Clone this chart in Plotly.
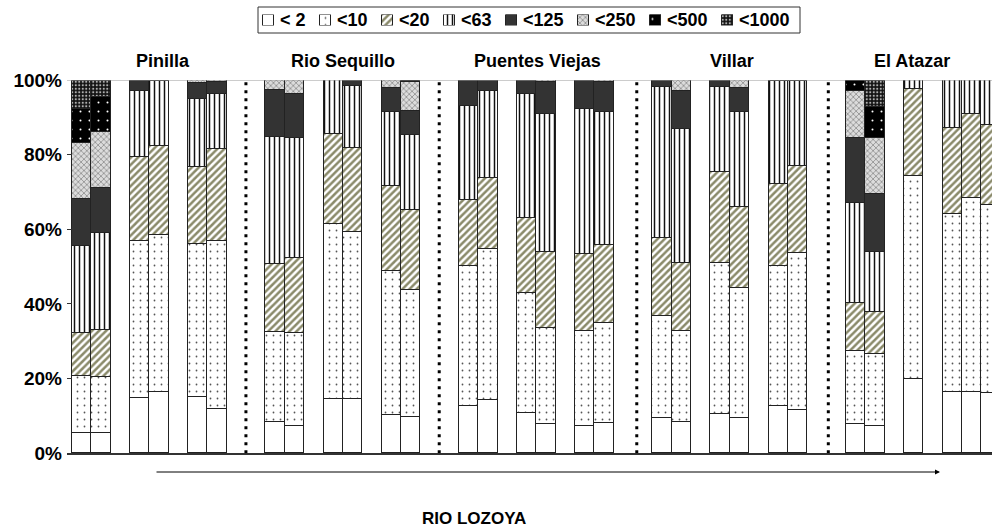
import plotly.graph_objects as go

# Size classes (legend order, bottom to top of each stack)
classes = ["< 2", "<10", "<20", "<63", "<125", "<250", "<500", "<1000"]

# Bar slots along the river: pairs of samples per site, with gaps between pairs and sites
slots = [0, 1, 3, 4, 6, 7,
         10, 11, 13, 14, 16, 17,
         20, 21, 23, 24, 26, 27,
         30, 31, 33, 34, 36, 37,
         40, 41, 43, 45, 46, 47]

sites = ["Pinilla", "Rio Sequillo", "Puentes Viejas", "Villar", "El Atazar"]

# Percentage of each size class per sample
lt2 = [5.5, 5.4, 14.7, 16.5, 15.1, 11.8,
       8.5, 7.4, 14.6, 14.6, 10.3, 9.6,
       12.7, 14.3, 10.9, 7.8, 7.4, 8.0,
       9.4, 8.5, 10.4, 9.4, 12.7, 11.6,
       7.8, 7.4, 19.8, 16.3, 16.3, 16.1]
lt10 = [15.3, 15.1, 42.3, 42.0, 41.1, 45.2,
        24.1, 24.8, 46.9, 44.8, 38.5, 34.2,
        37.5, 40.5, 32.1, 25.9, 25.4, 26.8,
        27.3, 24.3, 40.5, 34.8, 37.5, 42.0,
        19.7, 19.2, 54.6, 47.8, 52.0, 50.4]
lt20 = [11.5, 12.4, 22.3, 23.8, 20.4, 24.5,
        18.0, 20.2, 24.0, 22.5, 22.9, 21.5,
        17.7, 18.9, 19.9, 20.3, 20.5, 21.0,
        20.9, 18.1, 24.5, 21.9, 21.9, 23.4,
        12.7, 11.3, 23.2, 23.1, 22.6, 21.4]
lt63 = [23.2, 26.0, 17.8, 17.4, 18.3, 14.7,
        34.2, 32.0, 14.5, 16.5, 19.8, 20.0,
        25.1, 23.4, 33.3, 36.9, 38.9, 35.7,
        40.6, 35.9, 22.6, 25.4, 27.5, 22.6,
        26.8, 16.1, 2.4, 12.8, 9.1, 12.1]
lt125 = [12.6, 12.1, 2.5, 0.3, 4.4, 3.2,
         12.5, 11.9, 0, 1.6, 6.3, 6.4,
         7.0, 2.9, 3.8, 8.5, 7.8, 7.9,
         1.8, 10.3, 2.0, 6.3, 0.4, 0.4,
         17.4, 15.5, 0, 0, 0, 0]
lt250 = [15.1, 15.2, 0.4, 0, 0.7, 0.6,
         2.7, 3.7, 0, 0, 2.2, 7.7,
         0, 0, 0, 0.6, 0, 0.6,
         0, 2.9, 0, 2.2, 0, 0,
         12.7, 14.9, 0, 0, 0, 0]
lt500 = [9.0, 9.3, 0, 0, 0, 0,
         0, 0, 0, 0, 0, 0.6,
         0, 0, 0, 0, 0, 0,
         0, 0, 0, 0, 0, 0,
         2.9, 8.3, 0, 0, 0, 0]
lt1000 = [7.8, 4.5, 0, 0, 0, 0,
          0, 0, 0, 0, 0, 0,
          0, 0, 0, 0, 0, 0,
          0, 0, 0, 0, 0, 0,
          0, 7.3, 0, 0, 0, 0]

series = [lt2, lt10, lt20, lt63, lt125, lt250, lt500, lt1000]
yticks = [0, 20, 40, 60, 80, 100]
ytick_text = ["0%", "20%", "40%", "60%", "80%", "100%"]

W, H = 992, 528
FONT = "Liberation Sans, Arial, sans-serif"
EDGE = "#222222"


def px(x):
    return x / W


def py(y):
    return 1 - y / H


# Fill style for each size class
styles = [
    dict(color="white"),
    dict(color="white", pattern=dict(shape=".", fgcolor="#555555", bgcolor="white",
                                     size=7, solidity=0.05, fillmode="replace")),
    dict(color="white", pattern=dict(shape="/", fgcolor="#8a8a6a", bgcolor="white",
                                     size=5, solidity=0.5, fillmode="replace")),
    dict(color="white", pattern=dict(shape="|", fgcolor="#111111", bgcolor="white",
                                     size=5, solidity=0.3, fillmode="replace")),
    dict(color="#333333"),
    dict(color="#c8c8c8", pattern=dict(shape="x", fgcolor="#7a7a7a", bgcolor="#dcdcdc",
                                       size=4, solidity=0.3, fillmode="replace")),
    dict(color="black", pattern=dict(shape=".", fgcolor="white", bgcolor="black",
                                     size=9, solidity=0.04, fillmode="replace")),
    dict(color="#222222", pattern=dict(shape=".", fgcolor="#b0b0b0", bgcolor="#111111",
                                       size=3.5, solidity=0.3, fillmode="replace")),
]

fig = go.Figure()

for name, vals, st in zip(classes, series, styles):
    fig.add_bar(
        x=slots,
        y=[v if v else None for v in vals],
        name=name,
        width=1,
        marker=dict(line=dict(color=EDGE, width=1), **st),
        showlegend=False,
        hovertemplate="%{y:.1f}%<extra>" + name + "</extra>",
    )

# Legend row: small swatches drawn on their own pixel-scaled axes
swatch_left = [263, 320, 382, 444, 506, 578, 650, 722]
SW = 11
for name, left, st in zip(classes, swatch_left, styles):
    fig.add_bar(
        x=[left + SW / 2], y=[1], width=[SW], xaxis="x2", yaxis="y2",
        marker=dict(line=dict(color=EDGE, width=1), **st),
        showlegend=False, hoverinfo="skip",
    )

annotations = []
for name, left in zip(classes, swatch_left):
    annotations.append(dict(
        text="<b>%s</b>" % name, x=px(left + SW + 4), y=py(20.5), xref="paper", yref="paper",
        xanchor="left", yanchor="middle", showarrow=False,
        font=dict(family=FONT, size=18, color="black"),
    ))

site_px = [163, 343, 537, 732, 912]
for s, xp in zip(sites, site_px):
    annotations.append(dict(
        text="<b>%s</b>" % s, x=px(xp), y=py(61), xref="paper", yref="paper",
        xanchor="center", yanchor="middle", showarrow=False,
        font=dict(family=FONT, size=18, color="black"),
    ))

# Downstream arrow and river name
annotations.append(dict(
    text="", x=px(940), y=py(472), xref="paper", yref="paper",
    ax=-(940 - 155), ay=0, axref="pixel", ayref="pixel",
    showarrow=True, arrowhead=2, arrowsize=1, arrowwidth=1, arrowcolor="black",
))
annotations.append(dict(
    text="<b>RIO LOZOYA</b>", x=px(474), y=py(518), xref="paper", yref="paper",
    xanchor="center", yanchor="middle", showarrow=False,
    font=dict(family=FONT, size=17, color="black"),
))

shapes = [
    # legend frame
    dict(type="rect", xref="paper", yref="paper", x0=px(258), x1=px(800),
         y0=py(33), y1=py(7), line=dict(color="#333333", width=1)),
    # 100% line
    dict(type="line", xref="paper", yref="y", x0=px(67), x1=1, y0=100, y1=100,
         line=dict(color="#999999", width=1)),
]
# Dotted separators between sites
for xs in [8.49, 18.48, 28.69, 38.59]:
    shapes.append(dict(type="line", xref="x", yref="y", x0=xs, x1=xs, y0=0, y1=100,
                       line=dict(color="black", width=3, dash="3px,5px"), layer="above"))

fig.update_layout(
    width=W, height=H,
    margin=dict(l=0, r=0, t=0, b=0, autoexpand=False),
    paper_bgcolor="white", plot_bgcolor="white",
    barmode="stack", bargap=0,
    font=dict(family=FONT, color="black"),
    xaxis=dict(domain=[px(67), 1], range=[-0.758, 47.05], showticklabels=False,
               ticks="", showgrid=False, zeroline=False, showline=True,
               linecolor="#333333", linewidth=1.5, fixedrange=True, automargin=False),
    yaxis=dict(domain=[py(453.3), py(80)], range=[0, 100], tickvals=yticks,
               ticktext=["<b>%s</b>" % t for t in ytick_text], ticks="inside",
               ticklen=5, tickcolor="#333333", tickwidth=1, showgrid=False,
               zeroline=False, showline=False, tickfont=dict(family=FONT, size=19),
               ticklabelstandoff=4, fixedrange=True, automargin=False),
    xaxis2=dict(domain=[0, 1], range=[0, W], anchor="y2", visible=False,
                fixedrange=True, automargin=False),
    yaxis2=dict(domain=[py(25.5), py(14.5)], range=[0, 1], anchor="x2", visible=False,
                fixedrange=True, automargin=False),
    annotations=annotations,
    shapes=shapes,
)

fig.write_html("out.html")
